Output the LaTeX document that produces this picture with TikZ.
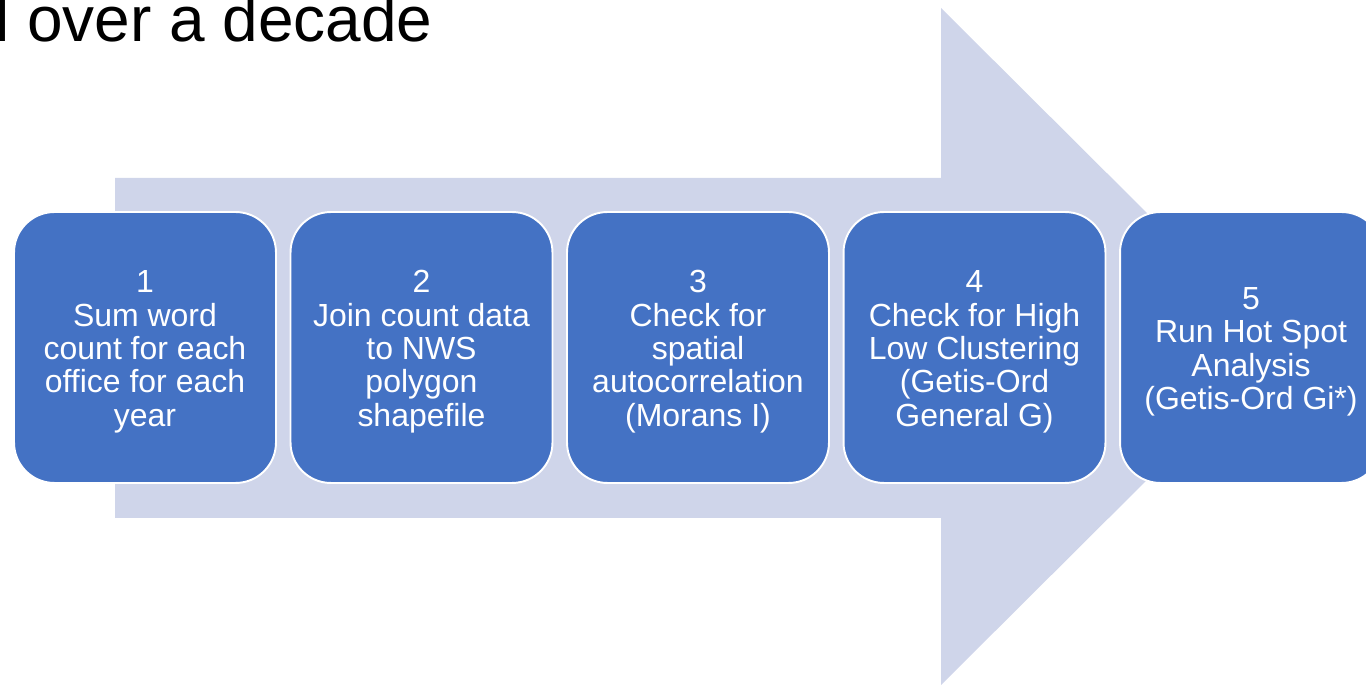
\documentclass[tikz,border=0pt]{standalone}
\usepackage{fontspec}
\setmainfont{Liberation Sans}
\usepackage{tikz}
\usetikzlibrary{positioning}
\definecolor{flowBlue}{HTML}{4472C4}
\definecolor{flowBand}{HTML}{CFD5EA}
\tikzset{
  flow diagram/.style={x=0.02cm, y=-0.02cm},
  flow step/.style={draw=white, fill=flowBlue, line width=1.1pt,
    rounded corners=23pt, minimum width=5.24cm, minimum height=5.42cm,
    align=center, text=white, inner sep=0pt,
    font=\fontsize{18.2}{19}\selectfont},
  flow band/.style={fill=flowBand},
  flow title/.style={font=\fontsize{36.4}{40}\selectfont, text=black, inner sep=0pt}
}
% step number with a little extra room above it
\newcommand{\stepno}[1]{\rule{0pt}{17.5pt}#1}

\begin{document}
\begin{tikzpicture}[flow diagram]
\useasboundingbox (0,0) rectangle (1366,685);
\clip (0,0) rectangle (1366,685);
\node[flow title,anchor=base east] (title) at (433,42) {l over a decade};
% the wide background arrow
\fill[flow band] (115,178) -- (941,178) -- (941,8) -- (1281,346.5)
  -- (941,685) -- (941,518) -- (115,518) -- cycle;
\node[flow step] (sum) at (145,347.5) {\stepno{1}\\Sum word\\count for each\\office for each\\year};
\node[flow step] (join) at (421.5,347.5) {\stepno{2}\\Join count data\\to NWS\\polygon\\shapefile};
\node[flow step] (moran) at (698,347.5) {\stepno{3}\\Check for\\spatial\\autocorrelation\\(Morans I)};
\node[flow step] (general) at (974.5,347.5) {\stepno{4}\\Check for High\\Low Clustering\\(Getis-Ord\\General G)};
\node[flow step] (hotspot) at (1251,347.5) {\stepno{5}\\Run Hot Spot\\Analysis\\(Getis-Ord Gi*)};
\end{tikzpicture}
\end{document}
